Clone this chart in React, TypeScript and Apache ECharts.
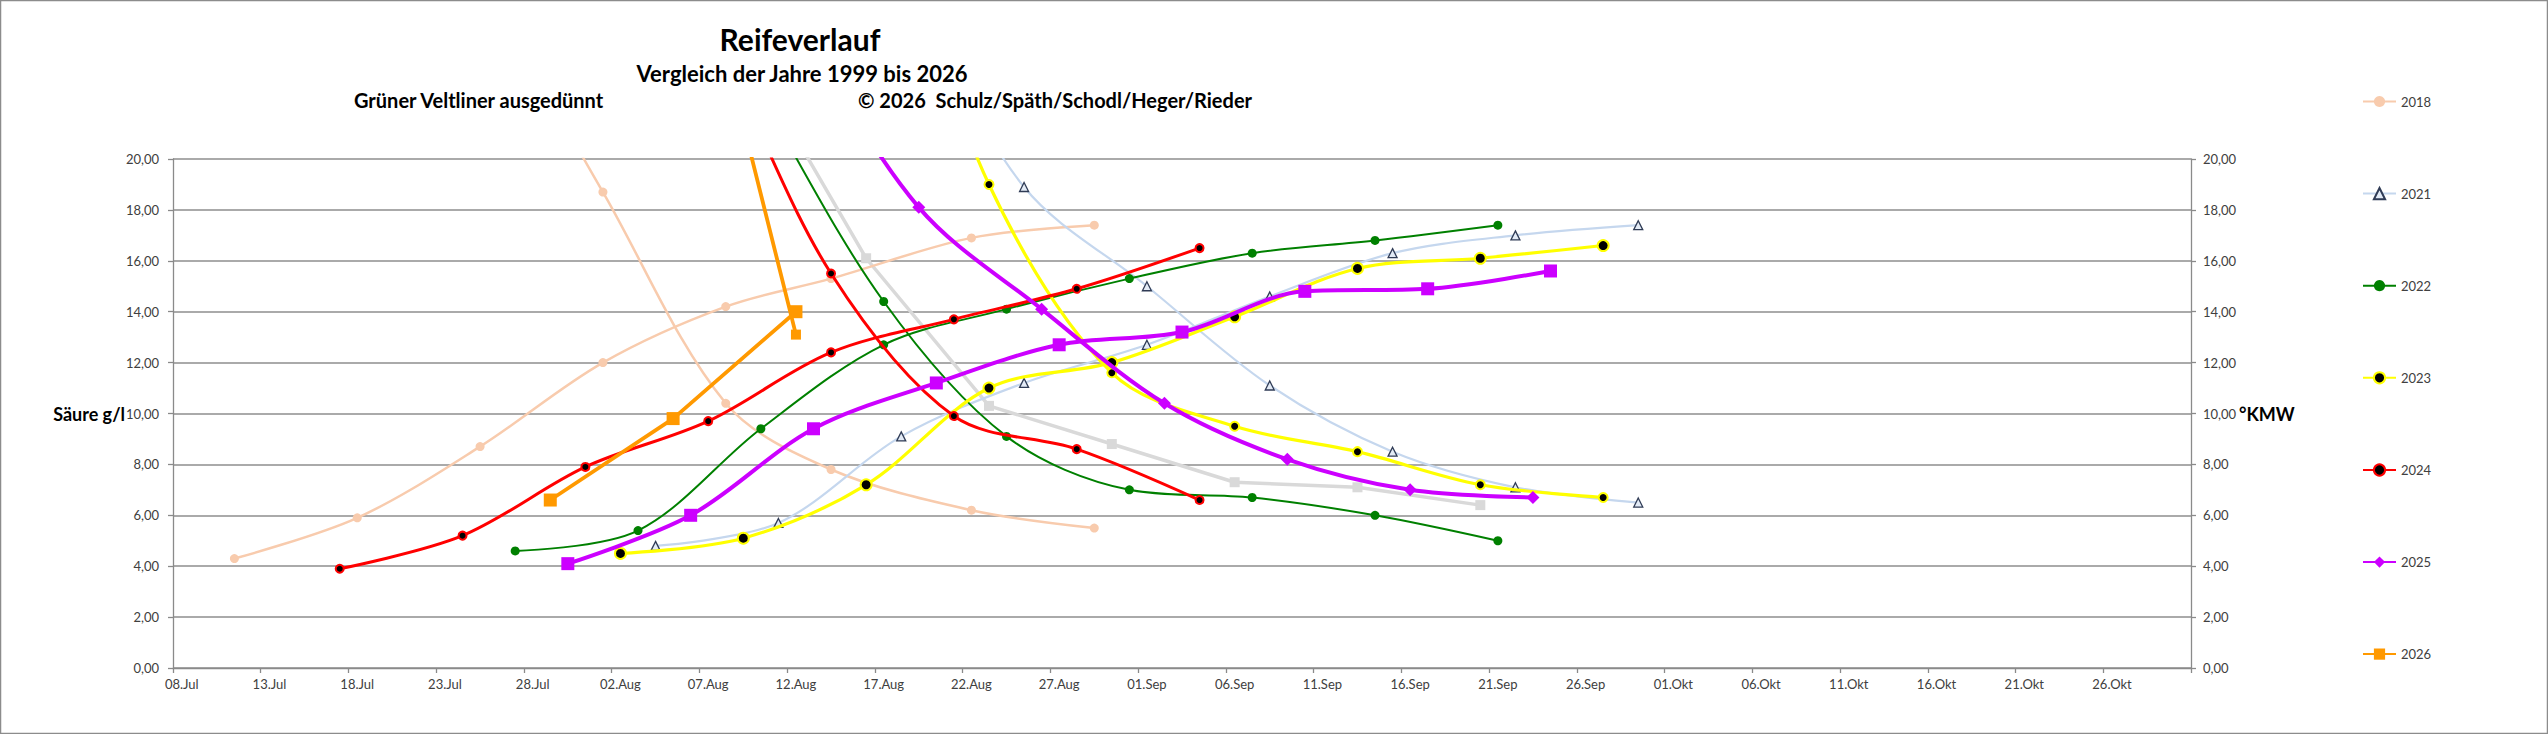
import React, { useEffect, useRef } from "react";
import * as echarts from "echarts";

// ---------- axis / categories ----------
const MONTHS = ["Jan", "Feb", "Mär", "Apr", "Mai", "Jun", "Jul", "Aug", "Sep", "Okt", "Nov", "Dez"];
const START_UTC = Date.UTC(2026, 6, 8); // 08.Jul
const DAY_COUNT = 115; // 08.Jul .. 30.Okt
const CATEGORIES: string[] = Array.from({ length: DAY_COUNT }, (_, i) => {
  const d = new Date(START_UTC + i * 86400000);
  return String(d.getUTCDate()).padStart(2, "0") + "." + MONTHS[d.getUTCMonth()];
});
const Y_MIN = 0;
const Y_MAX = 20;
const Y_STEP = 2;

const LEGEND_YEARS = ["2018", "2021", "2022", "2023", "2024", "2025", "2026"];

// ---------- data (°KMW rising, Säure g/l falling) ----------
const DATES_2018 = ["11.Jul", "18.Jul", "25.Jul", "01.Aug", "08.Aug", "14.Aug", "22.Aug", "29.Aug"];
const KMW_2018 = [4.3, 5.9, 8.7, 12.0, 14.2, 15.3, 16.9, 17.4];
const SAEURE_2018 = [40, 34, 27, 18.7, 10.4, 7.8, 6.2, 5.5];

const DATES_2020 = ["09.Aug", "16.Aug", "23.Aug", "30.Aug", "06.Sep", "13.Sep", "20.Sep"];
const SAEURE_2020 = [24.4, 16.1, 10.3, 8.8, 7.3, 7.1, 6.4];

const DATES_2021 = ["04.Aug", "11.Aug", "18.Aug", "25.Aug", "01.Sep", "08.Sep", "15.Sep", "22.Sep", "29.Sep"];
const KMW_2021 = [4.8, 5.7, 9.1, 11.2, 12.7, 14.6, 16.3, 17.0, 17.4];
const SAEURE_2021 = [38, 33, 27, 18.9, 15.0, 11.1, 8.5, 7.1, 6.5];

const DATES_2022 = ["27.Jul", "03.Aug", "10.Aug", "17.Aug", "24.Aug", "31.Aug", "07.Sep", "14.Sep", "21.Sep"];
const KMW_2022 = [4.6, 5.4, 9.4, 12.7, 14.1, 15.3, 16.3, 16.8, 17.4];
const SAEURE_2022 = [38, 31, 22.5, 14.4, 9.1, 7.0, 6.7, 6.0, 5.0];

const DATES_2023 = ["02.Aug", "09.Aug", "16.Aug", "23.Aug", "30.Aug", "06.Sep", "13.Sep", "20.Sep", "27.Sep"];
const KMW_2023 = [4.5, 5.1, 7.2, 11.0, 12.0, 13.8, 15.7, 16.1, 16.6];
const SAEURE_2023 = [41, 37, 32, 19.0, 11.6, 9.5, 8.5, 7.2, 6.7];

const DATES_2024 = ["17.Jul", "24.Jul", "31.Jul", "07.Aug", "14.Aug", "21.Aug", "28.Aug", "04.Sep"];
const KMW_2024 = [3.9, 5.2, 7.9, 9.7, 12.4, 13.7, 14.9, 16.5];
const SAEURE_2024 = [44, 38, 31, 25, 15.5, 9.9, 8.6, 6.6];

const DATES_KMW_2025 = ["30.Jul", "06.Aug", "13.Aug", "20.Aug", "27.Aug", "03.Sep", "10.Sep", "17.Sep", "24.Sep"];
const KMW_2025 = [4.1, 6.0, 9.4, 11.2, 12.7, 13.2, 14.8, 14.9, 15.6];
const DATES_SAEURE_2025 = ["29.Jul", "05.Aug", "12.Aug", "19.Aug", "26.Aug", "02.Sep", "09.Sep", "16.Sep", "23.Sep"];
const SAEURE_2025 = [40, 33, 25.5, 18.1, 14.1, 10.4, 8.2, 7.0, 6.7];

const DATES_2026 = ["29.Jul", "05.Aug", "12.Aug"];
const KMW_2026 = [6.6, 9.8, 14.0];
const SAEURE_2026 = [38, 32.4, 13.1];

// ---------- styling ----------
const FONT = "Lato, 'Noto Sans', sans-serif";
const TEXT = "#404040";
const AXIS = "#8a8a8a";

function pairs(dates: string[], values: number[]) {
  return dates.map((d, i) => [d, values[i]]);
}

function line(name: string, dates: string[], values: number[], o: any) {
  return {
    type: "line",
    name,
    data: pairs(dates, values),
    clip: true,
    showAllSymbol: true,
    smooth: o.smooth === false ? false : 0.33,
    symbol: o.symbol,
    symbolSize: o.size,
    lineStyle: { color: o.color, width: o.width },
    itemStyle: {
      color: o.fill || o.color,
      borderColor: o.border || o.fill || o.color,
      borderWidth: o.borderWidth || 0,
    },
    emphasis: { disabled: true },
    z: o.z || 2,
  };
}

export default function App() {
  const ref = useRef<HTMLDivElement>(null);

  useEffect(() => {
    if (!ref.current) return;
    const chart = echarts.init(ref.current, undefined, { renderer: "svg" });

    const peach = { color: "#F8CBAD", width: 2.5, symbol: "circle", size: 9, z: 2 };
    const grey = { color: "#D9D9D9", width: 3.5, symbol: "rect", size: 10, smooth: false, z: 2 };
    const blue = { color: "#C5D7EE", width: 2.2, symbol: "triangle", size: 9, fill: "#E3EBF6", border: "#2F3B55", borderWidth: 1.3, z: 3 };
    const green = { color: "#008000", width: 2, symbol: "circle", size: 9, z: 4 };
    const yellowK = { color: "#FFFF00", width: 3.2, symbol: "circle", size: 11, fill: "#000000", border: "#FFFF00", borderWidth: 2, z: 5 };
    const yellowS = { ...yellowK, size: 9 };
    const red = { color: "#FF0000", width: 3, symbol: "circle", size: 8, fill: "#000000", border: "#FF0000", borderWidth: 2, z: 6 };
    const purpleS = { color: "#CC00FF", width: 4, symbol: "diamond", size: 13, z: 7 };
    const purpleK = { color: "#CC00FF", width: 4, symbol: "rect", size: 13, z: 7 };
    const orangeK = { color: "#FF9900", width: 3.8, symbol: "rect", size: 13, smooth: false, z: 8 };
    const orangeS = { ...orangeK, size: 10 };

    const series = [
      line("2020", DATES_2020, SAEURE_2020, grey),
      line("2018", DATES_2018, SAEURE_2018, peach),
      line("2018", DATES_2018, KMW_2018, peach),
      line("2021", DATES_2021, SAEURE_2021, blue),
      line("2021", DATES_2021, KMW_2021, blue),
      line("2022", DATES_2022, SAEURE_2022, green),
      line("2022", DATES_2022, KMW_2022, green),
      line("2023", DATES_2023, KMW_2023, yellowK),
      line("2023", DATES_2023, SAEURE_2023, yellowS),
      line("2024", DATES_2024, KMW_2024, red),
      line("2024", DATES_2024, SAEURE_2024, red),
      line("2025", DATES_SAEURE_2025, SAEURE_2025, purpleS),
      line("2025", DATES_KMW_2025, KMW_2025, purpleK),
      line("2026", DATES_2026, KMW_2026, orangeK),
      line("2026", DATES_2026, SAEURE_2026, orangeS),
    ];

    const fmt = (v: number) => v.toFixed(2).replace(".", ",");
    const yBase = {
      type: "value",
      min: Y_MIN,
      max: Y_MAX,
      interval: Y_STEP,
      axisLine: { show: true, lineStyle: { color: AXIS, width: 1.3 } },
      axisTick: { show: true, length: 5, lineStyle: { color: AXIS, width: 1.3 } },
    };

    chart.setOption({
      animation: false,
      backgroundColor: "#ffffff",
      textStyle: { fontFamily: FONT },
      grid: { left: 173, right: 357, top: 159, bottom: 66, containLabel: false },
      legend: {
        data: LEGEND_YEARS,
        orient: "vertical",
        left: 2357,
        top: 90,
        itemWidth: 33,
        itemHeight: 14,
        itemGap: 79,
        textStyle: { fontSize: 13, color: TEXT, fontFamily: FONT },
      },
      xAxis: {
        type: "category",
        data: CATEGORIES,
        boundaryGap: true,
        axisLine: { show: true, lineStyle: { color: AXIS, width: 1.3 } },
        axisTick: { show: true, interval: 4, length: 5, lineStyle: { color: AXIS, width: 1.3 } },
        axisLabel: { interval: 4, fontSize: 13, color: TEXT, margin: 9, fontFamily: FONT },
        splitLine: { show: false },
      },
      yAxis: [
        {
          ...yBase,
          position: "left",
          axisLabel: { formatter: fmt, fontSize: 13, color: TEXT, margin: 14, fontFamily: FONT },
          splitLine: { show: true, lineStyle: { color: "#8e8e8e", width: 1.5 } },
        },
        {
          ...yBase,
          position: "right",
          axisLabel: { formatter: fmt, fontSize: 13, color: TEXT, margin: 12, fontFamily: FONT },
          splitLine: { show: false },
        },
      ],
      series,
      graphic: {
        elements: [
          {
            type: "rect",
            shape: { x: 0.5, y: 0.5, width: 2547, height: 733 },
            style: { fill: "none", stroke: "#8c8c8c", lineWidth: 1.5 },
            silent: true,
          },
          {
            type: "text",
            x: 800,
            y: 39,
            style: { text: "Reifeverlauf", font: `bold 30px ${FONT}`, fill: "#000", textAlign: "center", textVerticalAlign: "middle" },
          },
          {
            type: "text",
            x: 802,
            y: 73,
            style: { text: "Vergleich der Jahre 1999 bis 2026", font: `bold 22px ${FONT}`, fill: "#000", textAlign: "center", textVerticalAlign: "middle" },
          },
          {
            type: "text",
            x: 354,
            y: 100,
            style: { text: "Grüner Veltliner ausgedünnt", font: `bold 20px ${FONT}`, fill: "#000", textAlign: "left", textVerticalAlign: "middle" },
          },
          {
            type: "text",
            x: 858,
            y: 100,
            style: { text: "© 2026  Schulz/Späth/Schodl/Heger/Rieder", font: `bold 20px ${FONT}`, fill: "#000", textAlign: "left", textVerticalAlign: "middle" },
          },
          {
            type: "text",
            x: 125,
            y: 414,
            style: { text: "Säure g/l", font: `bold 18px ${FONT}`, fill: "#000", textAlign: "right", textVerticalAlign: "middle" },
          },
          {
            type: "text",
            x: 2239,
            y: 414,
            style: { text: "°KMW", font: `bold 18px ${FONT}`, fill: "#000", textAlign: "left", textVerticalAlign: "middle" },
          },
        ],
      },
    });

    return () => chart.dispose();
  }, []);

  return (
    <div
      ref={ref}
      style={{ position: "absolute", left: 0, top: 0, width: 2548, height: 734, background: "#fff" }}
    />
  );
}
